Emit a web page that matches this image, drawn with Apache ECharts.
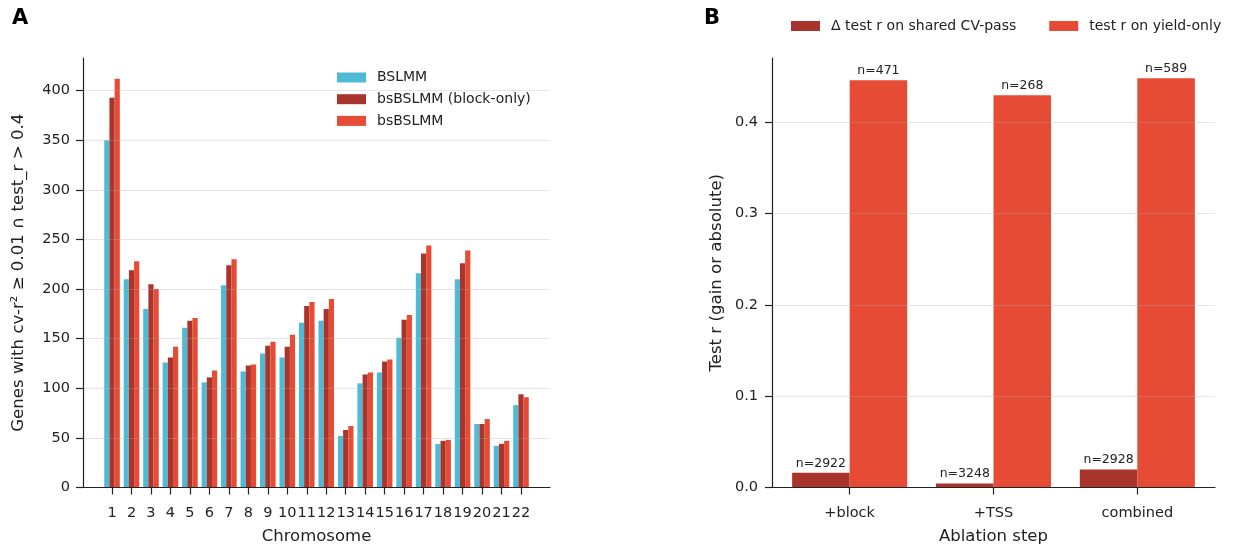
<!DOCTYPE html>
<html><head><meta charset="utf-8">
<script src="https://cdn.jsdelivr.net/npm/echarts@6/dist/echarts.min.js"></script>
<style>html,body{margin:0;padding:0;background:#fff}#c{width:1239px;height:546px}</style>
</head><body><div id="c"></div>
<script>
// ---- Panel A data ----
const chromosomes = ['1','2','3','4','5','6','7','8','9','10','11','12','13','14','15','16','17','18','19','20','21','22'];
const bslmm       = [350,210,180,126,161,106,204,117,135,131,166,168,52,105,116,151,216,44,210,64,42,83];
const bsBlockOnly = [393,219,205,131,168,111,224,123,143,142,183,180,58,114,127,169,236,47,226,64,44,94];
const bsBslmm     = [412,228,200,142,171,118,230,124,147,154,187,190,62,116,129,174,244,48,239,69,47,91];
const countTicks  = [0,50,100,150,200,250,300,350,400];

// ---- Panel B data ----
const ablationSteps = ['+block','+TSS','combined'];
const deltaSharedCV = [0.0161,0.0044,0.0197];
const yieldOnlyR    = [0.4459,0.4295,0.4481];
const nDelta        = [2922,3248,2928];
const nYield        = [471,268,589];
const rTicks        = [0,0.1,0.2,0.3,0.4];

const FONT = 'DejaVu Sans';
const INK = '#222222';
const C_TEAL = '#4DBBD5', C_DARK = '#A8342B', C_RED = '#E64B35';
const gridLine = 'rgba(176,176,176,0.32)';

const chart = echarts.init(document.getElementById('c'), null, {renderer:'canvas'});
const idx = arr => arr.map((v,i)=>[i,v]);

function xAxisCommon(extra){
  return Object.assign({
    type:'value', z:3,
    axisLine:{show:true,onZero:false,lineStyle:{color:INK,width:1.2}},
    splitLine:{show:false},
    nameLocation:'middle',
    nameTextStyle:{fontFamily:FONT,fontSize:16.5,color:INK},
  }, extra);
}
function yAxisCommon(extra){
  return Object.assign({
    type:'value', z:3, min:0,
    axisLine:{show:true,onZero:false,lineStyle:{color:INK,width:1.2}},
    splitLine:{show:true,lineStyle:{color:gridLine,width:1}},
    nameLocation:'middle',
    nameTextStyle:{fontFamily:FONT,fontSize:16.6,color:INK},
  }, extra);
}

const legendText = {fontFamily:FONT,fontSize:14,color:INK,padding:[0,0,0,6]};

const option = {
  backgroundColor:'#fff',
  animation:false,
  title:[
    {text:'A',left:12,top:8,padding:0,textStyle:{fontFamily:FONT,fontSize:21,fontWeight:'bold',color:'#000'}},
    {text:'B',left:704,top:8,padding:0,textStyle:{fontFamily:FONT,fontSize:21,fontWeight:'bold',color:'#000'}}
  ],
  legend:[
    {orient:'vertical', left:337, top:70.5, padding:0, itemWidth:29, itemHeight:10, itemGap:7.7, icon:'rect',
     data:['BSLMM','bsBSLMM (block-only)','bsBSLMM'], textStyle:legendText},
    {orient:'horizontal', left:791, top:19, padding:0, itemWidth:29, itemHeight:10, itemGap:33, icon:'rect',
     data:['Δ test r on shared CV-pass','test r on yield-only'], textStyle:legendText}
  ],
  grid:[
    {left:83, right:689, top:58, bottom:58.5, containLabel:false, outerBoundsMode:'none'},
    {left:772, right:24, top:58, bottom:58.5, containLabel:false, outerBoundsMode:'none'}
  ],
  xAxis:[
    xAxisCommon({gridIndex:0, min:-1.49, max:22.49, name:'Chromosome', nameGap:40.5,
      axisTick:{show:true,length:7,lineStyle:{color:INK,width:1.2},customValues:chromosomes.map((c,i)=>i)},
      axisLabel:{customValues:chromosomes.map((c,i)=>i), margin:18, fontFamily:FONT, fontSize:14.5, color:INK,
        formatter:v=>chromosomes[Math.round(v)]}}),
    xAxisCommon({gridIndex:1, min:-0.54, max:2.54, name:'Ablation step', nameGap:40.5,
      axisTick:{show:true,length:7,lineStyle:{color:INK,width:1.2},customValues:ablationSteps.map((c,i)=>i)},
      axisLabel:{customValues:ablationSteps.map((c,i)=>i), margin:18, fontFamily:FONT, fontSize:14.5, color:INK,
        formatter:v=>ablationSteps[Math.round(v)]}})
  ],
  yAxis:[
    yAxisCommon({gridIndex:0, max:433, interval:50, name:'Genes with cv-r² ≥ 0.01 ∩ test_r > 0.4', nameGap:56,
      axisTick:{show:true,length:7,lineStyle:{color:INK,width:1.2},customValues:countTicks},
      axisLabel:{customValues:countTicks, margin:13, fontFamily:FONT, fontSize:14.5, color:INK}}),
    yAxisCommon({gridIndex:1, max:0.4704, interval:0.1, name:'Test r (gain or absolute)', nameGap:47,
      axisTick:{show:true,length:7,lineStyle:{color:INK,width:1.2},customValues:rTicks},
      axisLabel:{customValues:rTicks, margin:14, fontFamily:FONT, fontSize:14.5, color:INK,
        formatter:v=>v.toFixed(1)}})
  ],
  series:[
    {name:'BSLMM', type:'bar', xAxisIndex:0, yAxisIndex:0, data:idx(bslmm), barWidth:'26.67%', barGap:'0%',
     itemStyle:{color:C_TEAL}},
    {name:'bsBSLMM (block-only)', type:'bar', xAxisIndex:0, yAxisIndex:0, data:idx(bsBlockOnly), barWidth:'26.67%', barGap:'0%',
     itemStyle:{color:C_DARK}},
    {name:'bsBSLMM', type:'bar', xAxisIndex:0, yAxisIndex:0, data:idx(bsBslmm), barWidth:'26.67%', barGap:'0%',
     itemStyle:{color:C_RED}},
    {name:'Δ test r on shared CV-pass', type:'bar', xAxisIndex:1, yAxisIndex:1, data:idx(deltaSharedCV), barWidth:'40%', barGap:'0%',
     itemStyle:{color:C_DARK},
     label:{show:true, position:'top', distance:3, fontFamily:FONT, fontSize:12.5, color:INK,
       formatter:p=>'n='+nDelta[p.dataIndex]}},
    {name:'test r on yield-only', type:'bar', xAxisIndex:1, yAxisIndex:1, data:idx(yieldOnlyR), barWidth:'40%', barGap:'0%',
     itemStyle:{color:C_RED},
     label:{show:true, position:'top', distance:3, fontFamily:FONT, fontSize:12.5, color:INK,
       formatter:p=>'n='+nYield[p.dataIndex]}}
  ]
};
chart.setOption(option);
</script>
</body></html>
